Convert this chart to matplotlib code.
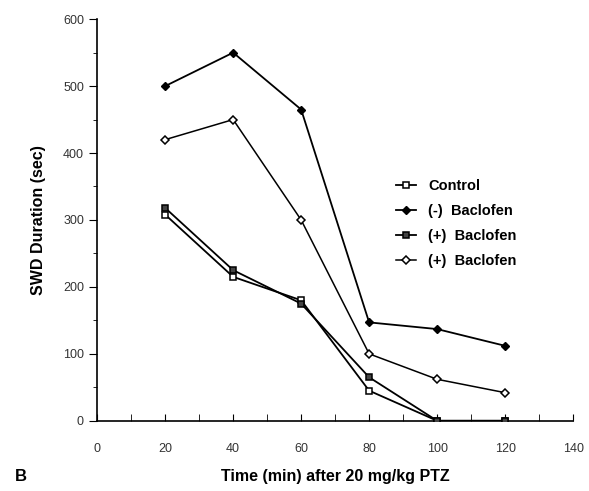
import matplotlib
matplotlib.use('Agg')
from matplotlib import pyplot as plt

plt.rcParams['font.family'] = ['Liberation Sans', 'DejaVu Sans']

time_min = [20, 40, 60, 80, 100, 120]
control = [308, 215, 180, 45, 0, 0]
minus_baclofen = [500, 550, 465, 147, 137, 112]
plus_baclofen_sq = [318, 225, 175, 65, 0, 0]
plus_baclofen_dm = [420, 450, 300, 100, 62, 42]

fig = plt.figure(figsize=(5.89, 4.91), dpi=100)
ax = fig.add_axes([0.165, 0.143, 0.808, 0.818])

ax.plot(time_min, control, color='black', lw=1.3, marker='s', ms=5,
        mfc='white', mec='black', mew=1.1, label='Control', zorder=3)
ax.plot(time_min, minus_baclofen, color='black', lw=1.3, marker='D', ms=4.5,
        mfc='black', mec='black', label='(-)  Baclofen', zorder=3)
ax.plot(time_min, plus_baclofen_sq, color='black', lw=1.3, marker='s', ms=5,
        mfc='#444444', mec='black', mew=1.1, label='(+)  Baclofen', zorder=3)
ax.plot(time_min, plus_baclofen_dm, color='black', lw=1.1, marker='D', ms=4.5,
        mfc='white', mec='black', mew=1.1, label='(+)  Baclofen', zorder=3)

ax.set_xlim(0, 140)
ax.set_ylim(0, 600)
ax.set_xticks(range(0, 141, 20))
ax.set_xticks(range(10, 141, 20), minor=True)
ax.set_yticks(range(0, 601, 100))
ax.set_yticks(range(50, 601, 100), minor=True)
ax.tick_params(axis='x', which='both', direction='in', length=5, labelsize=9,
               pad=16, labelcolor='#333333')
ax.tick_params(axis='y', which='major', direction='out', length=6, labelsize=9,
               labelcolor='#333333')
ax.tick_params(axis='y', which='minor', direction='out', length=3)
ax.spines['top'].set_visible(False)
ax.spines['right'].set_visible(False)
ax.spines['left'].set_linewidth(1.2)
ax.spines['bottom'].set_linewidth(1.2)

ax.set_xlabel('Time (min) after 20 mg/kg PTZ', fontsize=11.5, fontweight='bold', labelpad=10)
ax.set_ylabel('SWD Duration (sec)', fontsize=11.5, fontweight='bold', labelpad=12)

ax.legend(loc='upper left', bbox_to_anchor=(0.6, 0.635), frameon=False,
          prop={'weight': 'bold', 'size': 10.5}, handlelength=1.4,
          labelspacing=0.75, handletextpad=0.8)

fig.text(0.025, 0.02, 'B', fontsize=12, fontweight='bold')

fig.savefig('out.png', dpi=100)
